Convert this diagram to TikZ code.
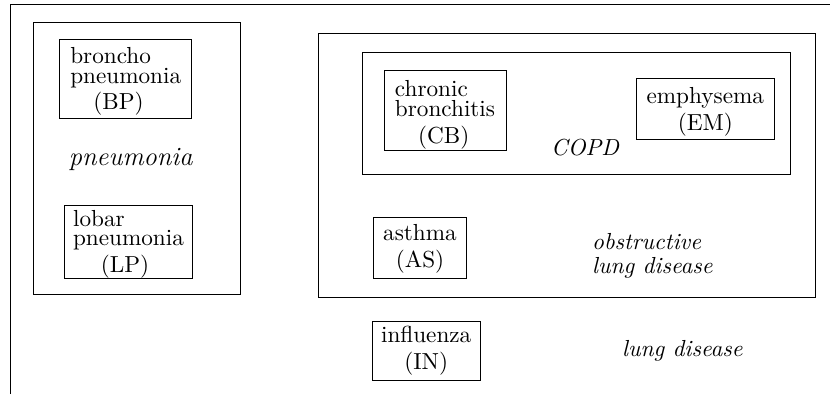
\documentclass[tikz,border=0pt]{standalone}
\begin{document}
\begin{tikzpicture}[x=0.431pt, y=-0.431pt,
  box/.style={draw, inner sep=0pt, font=\fontsize{10pt}{11.5pt}\selectfont},
  lbl/.style={inner sep=0pt, font=\itshape}]
\useasboundingbox (0,0) rectangle (830,394);
%outer region, runs off the page
\coordinate (O1) at (10,394);
\coordinate (O2) at (10,4);
\coordinate (O3) at (830,4);
\draw (O1) -- (O2) -- (O3);
%group corners
\coordinate (P1) at (33.3,22.7); %pneumonia
\coordinate (P2) at (240,294.7);
\coordinate (Q1) at (318.6,33.5); %obstructive lung disease
\coordinate (Q2) at (815,297.5);
\coordinate (R1) at (362.3,52.3); %COPD
\coordinate (R2) at (790.5,174.3);
%draw groups
\draw (P1) rectangle (P2);
\draw (Q1) rectangle (Q2);
\draw (R1) rectangle (R2);
%diseases
\node[box, align=left, minimum width=56.9pt, minimum height=33.8pt] (BP) at (125.7,78.9) {\rule{0pt}{9.1pt}broncho\\[-2.9pt]pneumonia\\\hspace*{1em}(BP)};
\node[box, align=left, minimum width=55.3pt, minimum height=31.5pt] (LP) at (128.5,241.8) {\rule{0pt}{9pt}lobar\\[-2.9pt]pneumonia\\\hspace*{1.2em}(LP)};
\node[box, align=left, minimum width=52.6pt, minimum height=34.5pt] (CB) at (445,110) {\rule{0pt}{11pt}chronic\\[-2.9pt]bronchitis\\\hspace*{1em}(CB)};
\node[box, align=center, minimum width=59.2pt, minimum height=26.2pt] (EM) at (705.3,108.7) {\rule{0pt}{9.4pt}emphysema\\(EM)};
\node[box, align=center, minimum width=39.7pt, minimum height=26.3pt] (AS) at (420,247.8) {\rule{0pt}{7.9pt}asthma\\(AS)};
\node[box, align=center, minimum width=46.4pt, minimum height=25.1pt] (IN) at (426.2,350.9) {influenza\\(IN)};
%group names
\node[lbl, anchor=base, font=\itshape\fontsize{11.4pt}{13pt}\selectfont] (pnlbl) at (130.8,165.7) {pneumonia};
\node[lbl, anchor=base] (copdlbl) at (585,155) {COPD};
\node[lbl, anchor=north west, align=left] (oldlbl) at (591.7,232.9) {obstructive\\[-1.7pt]lung disease};
\node[lbl, anchor=base west] (ldlbl) at (621.7,356.7) {lung disease};
\end{tikzpicture}
\end{document}
